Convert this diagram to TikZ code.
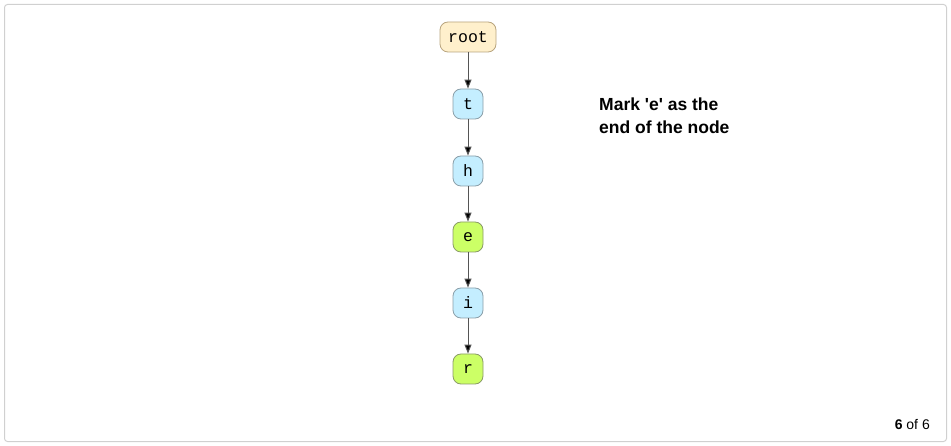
\documentclass[tikz,border=0pt]{standalone}
\usepackage{fontspec}
\setmainfont{Liberation Sans}
\newfontfamily\monofont{Liberation Mono}
\usetikzlibrary{arrows.meta}
\definecolor{rootfill}{HTML}{FFF0CC}
\definecolor{rootdraw}{HTML}{B8A47E}
\definecolor{bluefill}{HTML}{C4EEFF}
\definecolor{bluedraw}{HTML}{8A9EA8}
\definecolor{greenfill}{HTML}{CCFF66}
\definecolor{greendraw}{HTML}{8A9A66}
\definecolor{framecol}{HTML}{D0D0D0}
\definecolor{edgecol}{HTML}{555555}
\tikzset{
  trienode/.style={rounded corners=8pt, line width=0.8pt, minimum height=30pt,
    inner sep=0pt, font=\monofont\fontsize{16.5}{18}\selectfont, text=black},
  bluenode/.style={trienode, fill=bluefill, draw=bluedraw, minimum width=30pt},
  greennode/.style={trienode, fill=greenfill, draw=greendraw, minimum width=30pt},
  rootnode/.style={trienode, fill=rootfill, draw=rootdraw, minimum width=56pt},
  edge/.style={draw=edgecol, line width=1pt, -{Triangle[length=9pt,width=7pt,fill=black]}},
}
\begin{document}
\begin{tikzpicture}[x=1pt,y=-1pt]
\useasboundingbox (0,0) rectangle (951,446);
\draw[framecol, line width=1pt, rounded corners=3pt] (4.5,4.5) rectangle (946.5,441.5);
\node[rootnode] (root) at (468,37) {root};
\node[bluenode] (t) at (468,104) {t};
\node[bluenode] (h) at (468,171) {h};
\node[greennode] (e) at (468,237) {e};
\node[bluenode] (i) at (468,303) {i};
\node[greennode] (r) at (468,369) {r};
\draw[edge] (root) -- (t);
\draw[edge] (t) -- (h);
\draw[edge] (h) -- (e);
\draw[edge] (e) -- (i);
\draw[edge] (i) -- (r);
\node[anchor=north west, align=left, inner sep=0pt, font=\bfseries\fontsize{17.5}{23}\selectfont] (note) at (599,98) {Mark \textquotesingle e\textquotesingle{} as the\\end of the node};
\node[anchor=base east, inner sep=0pt, font=\fontsize{14}{16}\selectfont] (page) at (930,429) {\textbf{6} of 6};
\end{tikzpicture}
\end{document}
